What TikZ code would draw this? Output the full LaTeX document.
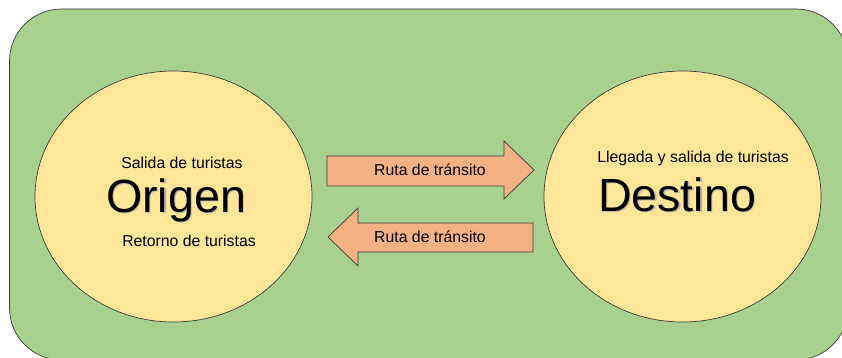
\documentclass[tikz,border=0pt]{standalone}
\usepackage{fontspec}
\setmainfont{Liberation Sans}
\usetikzlibrary{shapes.geometric}
\definecolor{bggreen}{HTML}{A9D18E}
\definecolor{circyellow}{HTML}{FFE699}
\definecolor{arroworange}{HTML}{F4B183}
\definecolor{edgegray}{HTML}{3B3B3B}
\tikzset{
  place/.style={ellipse, draw=edgegray, line width=0.7pt, fill=circyellow, minimum width=277pt, minimum height=251pt, inner sep=0pt},
  blockarrow/.style={draw=edgegray, line width=0.7pt, fill=arroworange, line join=miter},
  small/.style={font=\fontsize{15.8}{18}\selectfont, anchor=base, inner sep=0pt},
  big/.style={font=\fontsize{46.6}{50}\selectfont, anchor=base, inner sep=0pt},
  bigshadow/.style={big, text=black!30, opacity=0.8}
}
\begin{document}
\begin{tikzpicture}[x=1pt,y=-1pt]
\useasboundingbox (0,0) rectangle (842,358);
% background (runs past the right and bottom edges)
\begin{scope}
\clip (0,0) rectangle (842,358);
\draw[fill=bggreen, draw=edgegray, line width=0.7pt, rounded corners=52pt] (9.5,9) rectangle (848,360);
\end{scope}
% places
\node[place] (orig) at (173.5,196.5) {};
\node[place] (dest) at (682.5,196.5) {};
% arrows
\draw[blockarrow] (327,156) -- (504,156) -- (504,141) -- (534,170) -- (504,199) -- (504,186) -- (327,186) -- cycle;
\draw[blockarrow] (533,223) -- (358,223) -- (358,208) -- (328,237) -- (358,266) -- (358,252) -- (533,252) -- cycle;
\node[small] (r1) at (430,175.5) {Ruta de tránsito};
\node[small] (r2) at (430,242) {Ruta de tránsito};
% left texts
\node[small] (sal) at (182,168.5) {Salida de turistas};
\node[bigshadow] at (177.5,213.5) {Origen};
\node[big] (orgt) at (176,212) {Origen};
\node[small] (ret) at (189,246) {Retorno de turistas};
% right texts
\node[small] (lleg) at (693,162.5) {Llegada y salida de turistas};
\node[bigshadow] at (678.5,212.5) {Destino};
\node[big] (destt) at (677,211) {Destino};
\end{tikzpicture}
\end{document}
